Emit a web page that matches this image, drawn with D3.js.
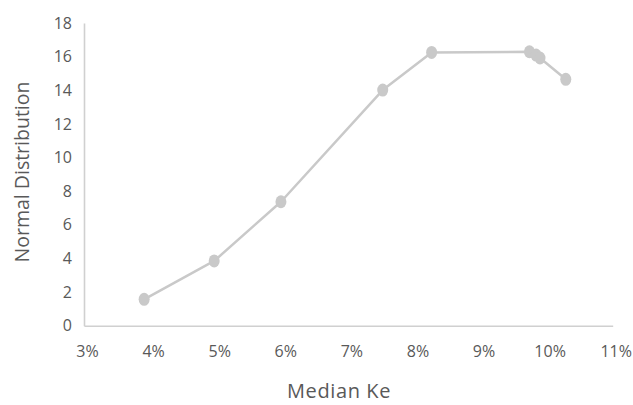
<!DOCTYPE html>
<html>
<head>
<meta charset="utf-8">
<script src="https://cdn.jsdelivr.net/npm/d3@7"></script>
<style>
  html, body { margin: 0; padding: 0; background: #fff; }
  svg { display: block; font-family: "Open Sans", sans-serif; }
</style>
</head>
<body>
<svg id="chart" width="633" height="405"></svg>
<script>
// Median Ke (percent) against the normal distribution density
const medianKe = [3.91, 4.97, 5.98, 7.52, 8.26, 9.74, 9.84, 9.90, 10.29];
const normalDist = [1.57, 3.85, 7.37, 14.01, 16.25, 16.29, 16.09, 15.92, 14.65];
const xTicks = [3, 4, 5, 6, 7, 8, 9, 10, 11];
const yTicks = [0, 2, 4, 6, 8, 10, 12, 14, 16, 18];
const xTitle = "Median Ke";
const yTitle = "Normal Distribution";

const svg = d3.select("#chart");
const plotLeft = 84, plotRight = 612.7, plotTop = 23, plotBottom = 325.7;

const x = d3.scaleLinear().domain([3, 11]).range([plotLeft, plotRight]);
const y = d3.scaleLinear().domain([0, 18]).range([plotBottom, plotTop]);

const axisColor = "#d0d0d0";
const textColor = "#595959";

// x axis
const gx = svg.append("g").attr("transform", `translate(0,${plotBottom})`)
  .call(d3.axisBottom(x).tickValues(xTicks).tickSize(0).tickPadding(20)
    .tickFormat(d => d + "%"));
gx.select(".domain").attr("stroke", axisColor).attr("stroke-width", 1.6);
gx.selectAll("text").attr("fill", textColor).attr("font-size", 16)
  .attr("font-family", "'Open Sans', sans-serif").attr("dx", 3);

// y axis
const gy = svg.append("g").attr("transform", `translate(${plotLeft},0)`)
  .call(d3.axisLeft(y).tickValues(yTicks).tickSize(0).tickPadding(12));
gy.select(".domain").attr("stroke", axisColor).attr("stroke-width", 1.6);
gy.selectAll("text").attr("fill", textColor).attr("font-size", 16)
  .attr("font-family", "'Open Sans', sans-serif");

// axis titles
svg.append("text")
  .attr("x", 339).attr("y", 398)
  .attr("text-anchor", "middle")
  .attr("fill", textColor).attr("font-size", 20)
  .attr("letter-spacing", 0.6)
  .text(xTitle);

svg.append("text")
  .attr("transform", "translate(22,172) rotate(-90)")
  .attr("text-anchor", "middle")
  .attr("fill", textColor).attr("font-size", 19.5)
  .attr("dy", "0.35em")
  .text(yTitle);

// series line
const pts = medianKe.map((k, i) => [k, normalDist[i]]);
svg.append("path")
  .datum(pts)
  .attr("fill", "none")
  .attr("stroke", "#c9c9c9")
  .attr("stroke-width", 2.5)
  .attr("stroke-linejoin", "round")
  .attr("d", d3.line().x(d => x(d[0])).y(d => y(d[1])));

// markers
svg.append("g").selectAll("ellipse")
  .data(pts).join("ellipse")
  .attr("cx", d => x(d[0])).attr("cy", d => y(d[1]))
  .attr("rx", 5.5).attr("ry", 6.5)
  .attr("fill", "#c9c9c9");
</script>
</body>
</html>
